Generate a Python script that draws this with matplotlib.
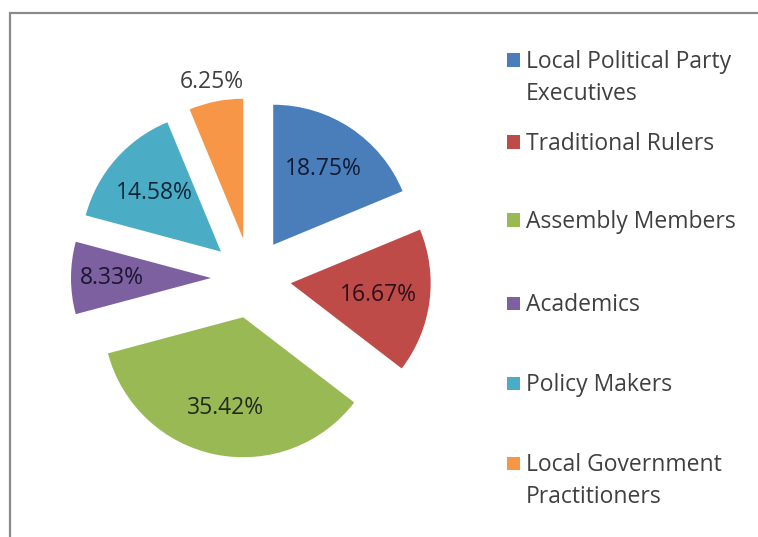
import math
import matplotlib
matplotlib.use("Agg")
import matplotlib.pyplot as plt
from matplotlib.patches import Rectangle

# Respondent groups and their shares (%)
categories = [
    "Local Political Party\nExecutives",
    "Traditional Rulers",
    "Assembly Members",
    "Academics",
    "Policy Makers",
    "Local Government\nPractitioners",
]
shares = [18.75, 16.67, 35.42, 8.33, 14.58, 6.25]
share_labels = ["18.75%", "16.67%", "35.42%", "8.33%", "14.58%", "6.25%"]
colors = ["#4A7EBB", "#BE4B48", "#98B954", "#7D60A0", "#4BACC6", "#F79646"]

# Label distance from each wedge's own centre, in units of the radius
label_dist = [0.65, 0.63, 0.66, 0.71, 0.63, 1.14]

plt.rcParams["font.family"] = ["Open Sans", "DejaVu Sans"]

W, H, DPI = 758, 537, 100
fig = plt.figure(figsize=(W / DPI, H / DPI), dpi=DPI)
fig.patch.set_facecolor("white")

# Chart-area frame (top and left edges visible)
frame = Rectangle((10 / W, -0.05), 1.2, (H - 12.7) / H + 0.05,
                  transform=fig.transFigure, fill=False,
                  edgecolor="#8a8a8a", linewidth=1.6)
fig.patches.append(frame)

R_PX = 140.0          # pie radius in pixels
CX, CY = 251.0, 278.0  # pie centre in pixels (from top-left)

ax = fig.add_axes([0, 0, 1, 1])
wedges, _ = ax.pie(
    shares,
    colors=colors,
    startangle=90,
    counterclock=False,
    explode=[40 / R_PX] * len(shares),
    radius=1.0,
    wedgeprops=dict(linewidth=0),
)
ax.set_xlim(-CX / R_PX, (W - CX) / R_PX)
ax.set_ylim(-(H - CY) / R_PX, CY / R_PX)
ax.set_aspect("equal")
ax.axis("off")

for w, txt, d in zip(wedges, share_labels, label_dist):
    mid = math.radians(0.5 * (w.theta1 + w.theta2))
    cx, cy = w.center
    inside = d < 1.0
    ax.text(cx + d * math.cos(mid), cy + d * math.sin(mid), txt,
            ha="center", va="center", fontsize=16.5,
            color=(0, 0, 0.05, 0.78) if inside else "#404040")

# Legend: square swatch beside the first line of each entry
entry_y = [60, 142, 220, 303, 383, 463]
sw = 13
for name, col, y in zip(categories, colors, entry_y):
    fig.patches.append(Rectangle((507 / W, (H - y - sw / 2) / H), sw / W, sw / H,
                                 transform=fig.transFigure, facecolor=col,
                                 edgecolor="none"))
    fig.text(526 / W, (H - y + 10) / H, name, ha="left", va="top",
             fontsize=16.5, color="#404040", linespacing=1.45)

fig.savefig("out.png", dpi=DPI, facecolor="white")
